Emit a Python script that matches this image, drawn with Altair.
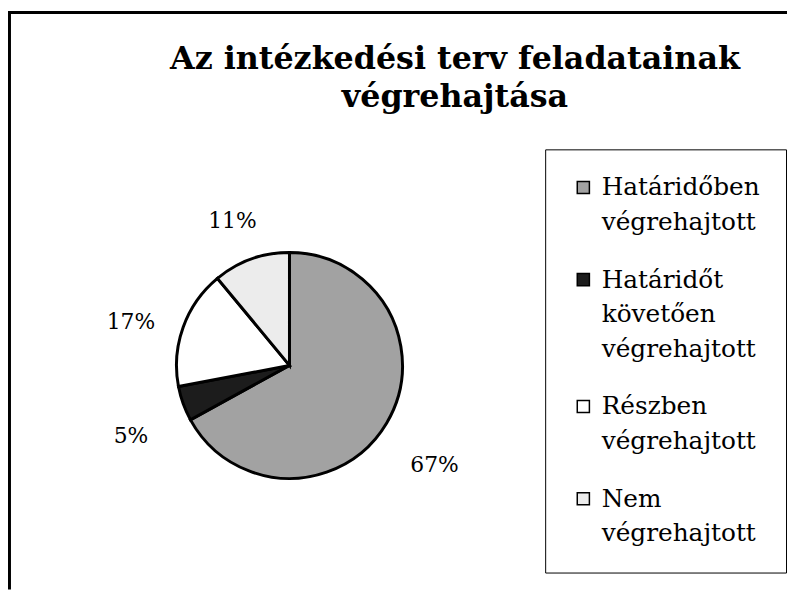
import altair as alt
import pandas as pd

categories = [
    "Határidőben végrehajtott",
    "Határidőt követően végrehajtott",
    "Részben végrehajtott",
    "Nem végrehajtott",
]
values = [67, 5, 17, 11]
labels = ["67%", "5%", "17%", "11%"]
colors = ["#a2a2a2", "#1c1c1c", "#ffffff", "#ececec"]
title_lines = ["Az intézkedési terv feladatainak", "végrehajtása"]

df = pd.DataFrame({
    "kategoria": categories,
    "ertek": values,
    "cimke": labels,
    "sorrend": list(range(len(categories))),
})

W, H = 786, 584
CX, CY = 284, 358

base = alt.Chart(df).encode(
    theta=alt.Theta("ertek:Q", stack=True),
    order=alt.Order("sorrend:Q"),
)

pie = base.mark_arc(outerRadius=114, stroke="black", strokeWidth=3).encode(
    x=alt.value(CX),
    y=alt.value(CY),
    color=alt.Color(
        "kategoria:N",
        scale=alt.Scale(domain=categories, range=colors),
        legend=alt.Legend(
            title=None,
            orient="none",
            legendX=542,
            legendY=140,
            padding=26,
            strokeColor="black",
            fillColor="white",
            labelExpr="split(datum.label, ' ')",
            labelFont="DejaVu Serif",
            labelFontSize=25,
            labelColor="black",
            labelLimit=0,
            labelOffset=6,
            labelBaseline="middle",
            symbolType="square",
            symbolSize=150,
            symbolStrokeColor="black",
            symbolStrokeWidth=1.5,
            rowPadding=32,
        ),
    ),
)

text = base.mark_text(
    radius=170, dy=14, font="DejaVu Serif", fontSize=22, color="black"
).encode(
    x=alt.value(CX),
    y=alt.value(CY),
    text="cimke:N",
)

frame_top = alt.Chart(alt.Data(values=[{"a": 1}])).mark_rule(
    color="black", strokeWidth=3
).encode(x=alt.value(0), x2=alt.value(W), y=alt.value(2))

frame_left = alt.Chart(alt.Data(values=[{"a": 1}])).mark_rule(
    color="black", strokeWidth=3
).encode(x=alt.value(1.5), y=alt.value(2), y2=alt.value(H))

chart = alt.layer(pie, text, frame_top, frame_left).properties(
    width=W,
    height=H,
    padding=0,
    autosize=alt.AutoSizeParams(type="none"),
    title=alt.TitleParams(
        text=title_lines,
        font="DejaVu Serif",
        fontSize=32,
        fontWeight="bold",
        color="black",
        anchor="middle",
        baseline="top",
        lineHeight=38,
        dx=58,
        dy=104,
        offset=0,
    ),
).configure(
    background="white",
    style={"guide-label": {"lineHeight": 35}},
).configure_view(stroke=None)

chart.save("out.html", embed_options={"renderer": "svg", "actions": False})
